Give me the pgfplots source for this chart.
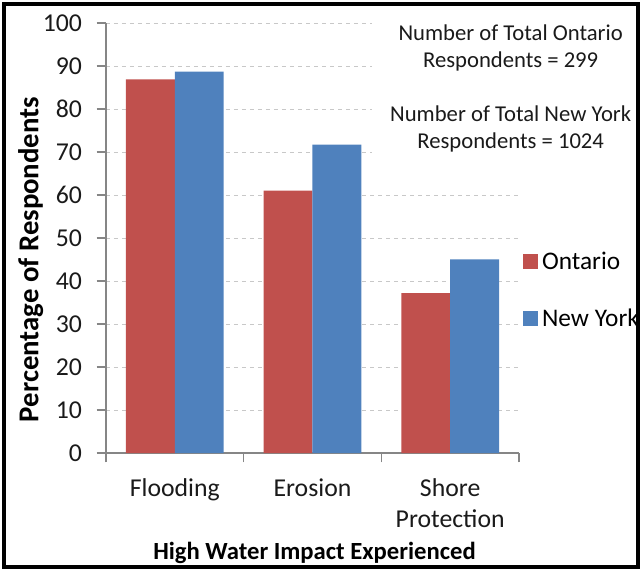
\documentclass[border=0pt]{standalone}
\usepackage{fontspec}
\setmainfont{Carlito}
\usepackage{pgfplots}
\pgfplotsset{compat=1.18}
\definecolor{ont}{HTML}{C0504D}
\definecolor{ny}{HTML}{4F81BD}
\definecolor{axgray}{HTML}{868686}
\definecolor{gridgray}{HTML}{C8C8C8}
\definecolor{txt}{HTML}{1A1A1A}
\begin{document}
\begin{tikzpicture}
% picture is 643x571 px; 1px = 0.75pt; axis origin at px (106,453)
\useasboundingbox (-79.5pt,-88.5pt) rectangle (402.75pt,339.75pt);
\begin{axis}[
 at={(0,0)}, anchor=south west,
 scale only axis, width=309.75pt, height=322.5pt,
 xmin=0, xmax=3, ymin=0, ymax=100,
 ybar=0pt, bar width=0.355,
 axis x line*=bottom, axis y line*=left,
 axis line style={axgray, line width=0.8pt, -},
 xtick={0.5,1.5,2.5},
 xticklabels={Flooding, Erosion, {Shore\\Protection}},
 x tick label style={align=center, font=\fontsize{19.3}{23}\selectfont, text=txt, yshift=-9pt},
 y tick label style={font=\fontsize{19.3}{22}\selectfont, text=txt, xshift=-7.5pt},
 /pgf/number format/assume math mode=true,
 minor xtick={0,1,2,3},
 major x tick style={draw=none},
 minor x tick style={axgray, line width=0.8pt},
 ytick={0,10,...,100},
 y tick style={axgray, line width=0.8pt},
 tick align=outside, major tick length=7pt, minor tick length=7pt,
 ymajorgrids, grid style={gridgray, dashed, line width=0.6pt},
 xlabel={\bfseries High Water Impact Experienced},
 xlabel style={font=\fontsize{18.5}{22}\selectfont, text=black, at={(axis description cs:0.505,-0.232)}, anchor=center},
 ylabel={\bfseries Percentage of Respondents},
 ylabel style={font=\fontsize{21.6}{24}\selectfont, text=black, at={(axis description cs:-0.182,0.45)}, anchor=center, rotate=0},
 legend style={at={(axis description cs:1.01,0.475)}, anchor=north west, draw=none, fill=none,
   font=\fontsize{19}{22}\selectfont, row sep=24pt, inner sep=0pt,
   nodes={inner xsep=3pt}},
 legend cell align=left,
 legend image code/.code={\fill[#1, draw=none] (0pt,-5.5pt) rectangle (11pt,5.5pt);},
]
\addplot[fill=ont, draw=none] coordinates {(0.5,86.9) (1.5,61.0) (2.5,37.2)};
\addplot[fill=ny, draw=none] coordinates {(0.5,88.7) (1.5,71.7) (2.5,45.0)};
\legend{Ontario, New York}
\fill[white] (rel axis cs:0.645,0.68) rectangle (rel axis cs:1.05,1.01);
\end{axis}
\draw[black, line width=2.6pt] (-76.5pt,-85.5pt) rectangle (399pt,336.75pt);
\begin{scope}[every node/.style={font=\fontsize{17}{20}\selectfont, text=txt, align=center}]
\node at (303.5pt,304pt) {Number of Total Ontario\\Respondents = 299};
\node at (303.5pt,243pt) {Number of Total New York\\Respondents = 1024};
\end{scope}
\end{tikzpicture}
\end{document}
